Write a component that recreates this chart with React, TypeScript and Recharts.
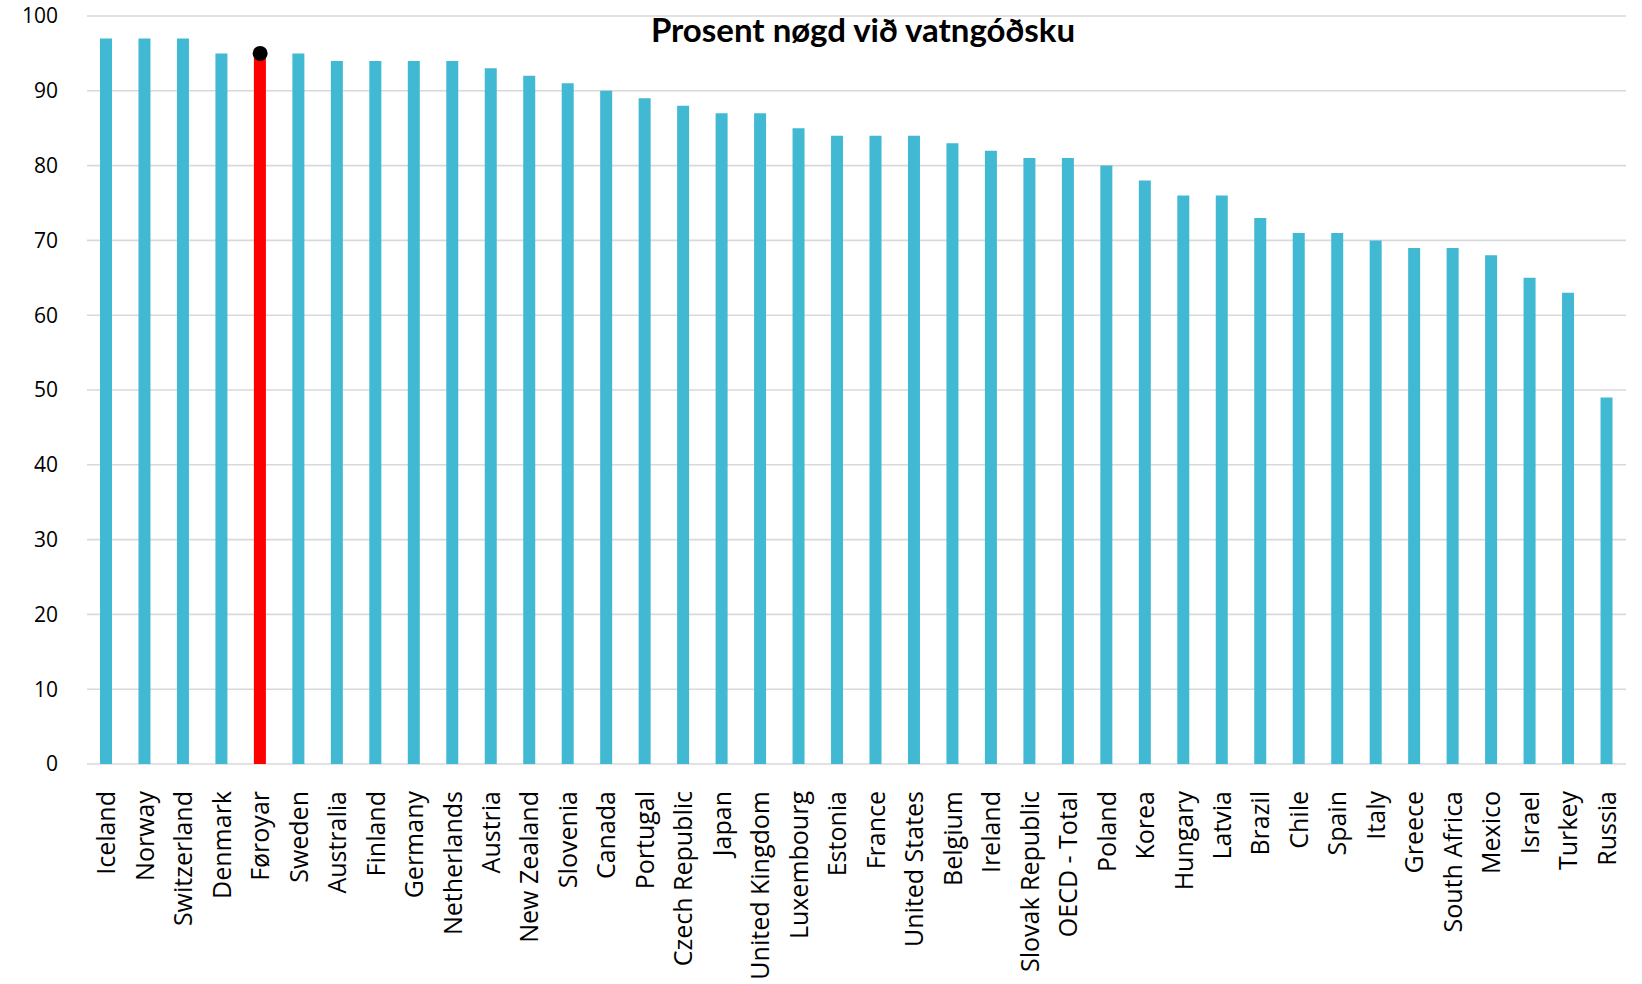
import { ComposedChart, Bar, Cell, Line, XAxis, YAxis, CartesianGrid } from 'recharts';

const countries = [
  'Iceland', 'Norway', 'Switzerland', 'Denmark', 'Føroyar', 'Sweden', 'Australia', 'Finland', 'Germany', 'Netherlands',
  'Austria', 'New Zealand', 'Slovenia', 'Canada', 'Portugal', 'Czech Republic', 'Japan', 'United Kingdom', 'Luxembourg', 'Estonia',
  'France', 'United States', 'Belgium', 'Ireland', 'Slovak Republic', 'OECD - Total', 'Poland', 'Korea', 'Hungary', 'Latvia',
  'Brazil', 'Chile', 'Spain', 'Italy', 'Greece', 'South Africa', 'Mexico', 'Israel', 'Turkey', 'Russia',
];

const satisfied = [
  97, 97, 97, 95, 95, 95, 94, 94, 94, 94,
  93, 92, 91, 90, 89, 88, 87, 87, 85, 84,
  84, 84, 83, 82, 81, 81, 80, 78, 76, 76,
  73, 71, 71, 70, 69, 69, 68, 65, 63, 49,
];

const highlight = 'Føroyar';
const yTicks = [0, 10, 20, 30, 40, 50, 60, 70, 80, 90, 100];

const data = countries.map((name, i) => ({
  name,
  value: satisfied[i],
  marker: name === highlight ? satisfied[i] : null,
}));

const CountryTick = (props: any) => {
  const { x, y, payload } = props;
  return (
    <text
      x={0}
      y={0}
      dy="0.36em"
      transform={`translate(${x},${y + 19}) rotate(-90)`}
      textAnchor="end"
      fill="#000"
      fontSize={25}
      fontFamily="'Open Sans', sans-serif"
    >
      {payload.value}
    </text>
  );
};

const MarkerDot = (props: any) => {
  const { cx, cy } = props;
  if (cx == null || cy == null || isNaN(cx) || isNaN(cy)) return null;
  return <circle cx={cx} cy={cy} r={7.5} fill="#000" />;
};

export default function App() {
  return (
    <div style={{ position: 'absolute', left: 0, top: 0, width: 1642, height: 984, background: '#fff' }}>
      <ComposedChart width={1642} height={984} data={data} margin={{ top: 16, right: 16, left: 0, bottom: 0 }}>
        <CartesianGrid vertical={false} stroke="#D9D9D9" strokeWidth={1.6} />
        <XAxis
          dataKey="name"
          interval={0}
          height={220}
          axisLine={false}
          tickLine={false}
          tick={<CountryTick />}
        />
        <YAxis
          domain={[0, 100]}
          ticks={yTicks}
          width={87}
          axisLine={false}
          tickLine={false}
          tickMargin={23}
          tick={{ fill: '#000', fontSize: 21, fontFamily: "'Open Sans', sans-serif" }}
        />
        <Bar dataKey="value" barSize={12} fill="#41B9D3" isAnimationActive={false}>
          {data.map((d) => (
            <Cell key={d.name} fill={d.name === highlight ? '#FF0000' : '#41B9D3'} />
          ))}
        </Bar>
        <Line
          dataKey="marker"
          stroke="none"
          dot={<MarkerDot />}
          activeDot={false}
          isAnimationActive={false}
        />
      </ComposedChart>
      <div
        style={{
          position: 'absolute',
          left: 463,
          top: 13,
          width: 800,
          textAlign: 'center',
          fontFamily: 'Lato, sans-serif',
          fontWeight: 700,
          fontSize: 33,
          lineHeight: '33px',
          color: '#000',
        }}
      >
        Prosent nøgd við vatngóðsku
      </div>
    </div>
  );
}
